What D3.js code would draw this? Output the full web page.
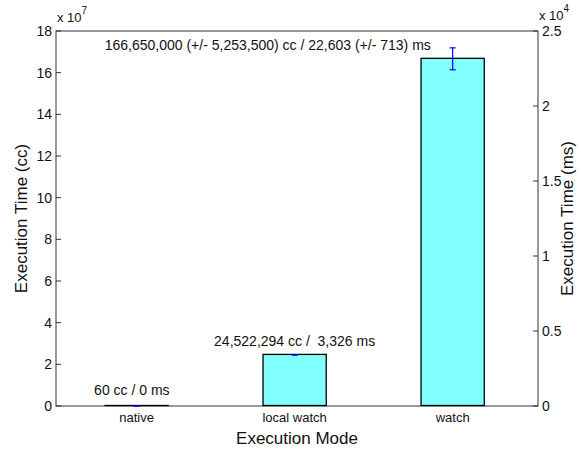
<!DOCTYPE html>
<html><head><meta charset="utf-8">
<script src="https://cdn.jsdelivr.net/npm/d3@7"></script>
<style>
html,body{margin:0;padding:0;background:#fff;}
svg{display:block;font-family:"Liberation Sans",Arial,Helvetica,sans-serif;}
</style></head>
<body>
<svg id="c" width="581" height="449"></svg>
<script>
// ---- data ----
const categories = ["native", "local watch", "watch"];
const ccValues = [60, 24522294, 166650000];
const ccErrors = [0, 0, 5253500];
const msValues = [0, 3326, 22603];
const msErrors = [0, 0, 713];
const barLabels = ["60 cc / 0 ms", "24,522,294 cc /  3,326 ms", "166,650,000 (+/- 5,253,500) cc / 22,603 (+/- 713) ms"];
const labelX = [0.97, 2.0, 1.83];          // data x position of annotation
const labelY = [0.77e7, 3.13e7, 17.33e7];  // data y position (cc) of annotation
const leftTicks = [0, 2, 4, 6, 8, 10, 12, 14, 16, 18];          // x 10^7 cc
const rightTicks = [0, 0.5, 1, 1.5, 2, 2.5];                    // x 10^4 ms
const leftExp = 7, rightExp = 4;

// ---- layout ----
const L = 56, R = 538, T = 31, B = 406;
const svg = d3.select("#c");
const txt = "#111";

const x = d3.scaleLinear().domain([0.49, 3.54]).range([L, R]);
const yCC = d3.scaleLinear().domain([0, 18e7]).range([B, T]);
const yMS = d3.scaleLinear().domain([0, 2.5e4]).range([B, T]);
const barW = 0.4;

// frame
const ax = svg.append("g").attr("stroke", "#333").attr("stroke-width", 1).attr("fill", "none");
ax.append("rect").attr("x", L).attr("y", T).attr("width", R - L).attr("height", B - T);

// bars
svg.append("g").selectAll("rect").data(ccValues).join("rect")
  .attr("x", (d, i) => x(i + 1 - barW / 2))
  .attr("width", (d, i) => x(i + 1 + barW / 2) - x(i + 1 - barW / 2))
  .attr("y", d => yCC(d) - 0.5)
  .attr("height", d => Math.max(0, yCC(0) - yCC(d)))
  .attr("fill", "#80ffff")
  .attr("stroke", "#000")
  .attr("stroke-width", 1.3);

// error bars
const eb = svg.append("g").attr("stroke", "#0000ff").attr("stroke-width", 1.2);
ccValues.forEach((v, i) => {
  const cx = x(i + 1), e = ccErrors[i];
  const y1 = yCC(v + e), y2 = yCC(v - e);
  eb.append("line").attr("x1", cx).attr("x2", cx).attr("y1", Math.min(y1, yCC(v) - 1)).attr("y2", Math.max(y2, yCC(v) + 0.5));
  [y1, y2].forEach(yy => eb.append("line").attr("x1", cx - 3).attr("x2", cx + 3).attr("y1", yy).attr("y2", yy));
});

// left ticks
const ls = Math.pow(10, leftExp), rs = Math.pow(10, rightExp);
const gL = svg.append("g");
leftTicks.forEach(t => {
  const yy = yCC(t * ls);
  gL.append("line").attr("x1", L).attr("x2", L + 5).attr("y1", yy).attr("y2", yy).attr("stroke", "#333");
  gL.append("text").attr("x", L - 4).attr("y", yy).attr("dy", "0.35em").attr("text-anchor", "end")
    .attr("font-size", 14).attr("fill", txt).text(t);
});
// right ticks
const gR = svg.append("g");
rightTicks.forEach(t => {
  const yy = yMS(t * rs);
  gR.append("line").attr("x1", R - 5).attr("x2", R).attr("y1", yy).attr("y2", yy).attr("stroke", "#333");
  gR.append("text").attr("x", R + 4).attr("y", yy).attr("dy", "0.35em").attr("text-anchor", "start")
    .attr("font-size", 14).attr("fill", txt).text(t);
});

// x tick labels
svg.append("g").selectAll("text").data(categories).join("text")
  .attr("x", (d, i) => x(i + 1)).attr("y", B + 16)
  .attr("text-anchor", "middle").attr("font-size", 13).attr("fill", txt).text(d => d);

// exponent labels
function expLabel(px, py, e) {
  const t = svg.append("text").attr("x", px).attr("y", py).attr("font-size", 13).attr("fill", txt);
  t.append("tspan").text("x 10");
  t.append("tspan").attr("dy", -8).attr("font-size", 10).text(e);
}
expLabel(L + 1, 22, leftExp);
expLabel(R + 1, 20, rightExp);

// bar annotations
svg.append("g").selectAll("text").data(barLabels).join("text")
  .attr("x", (d, i) => x(labelX[i])).attr("y", (d, i) => yCC(labelY[i]))
  .attr("dy", "0.35em").attr("text-anchor", "middle").attr("font-size", 14)
  .attr("fill", txt).style("white-space", "pre").attr("xml:space", "preserve").text(d => d);

// axis titles
svg.append("text").attr("x", (L + R) / 2).attr("y", 444).attr("text-anchor", "middle")
  .attr("font-size", 17).attr("fill", txt).text("Execution Mode");
svg.append("text").attr("transform", `translate(27,${(T + B) / 2}) rotate(-90)`)
  .attr("text-anchor", "middle").attr("font-size", 17).attr("fill", txt).text("Execution Time (cc)");
svg.append("text").attr("transform", `translate(573,${(T + B) / 2}) rotate(-90)`)
  .attr("text-anchor", "middle").attr("font-size", 17).attr("fill", txt).text("Execution Time (ms)");
</script>
</body></html>
